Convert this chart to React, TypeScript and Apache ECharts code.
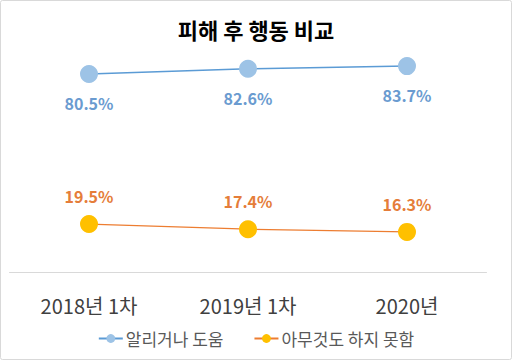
import React, { useEffect, useRef } from "react";
import * as echarts from "echarts";

const categories = ["2018년 1차", "2019년 1차", "2020년"];
const informHelp = [80.5, 82.6, 83.7];
const nothing = [19.5, 17.4, 16.3];
const seriesNames = ["알리거나 도움", "아무것도 하지 못함"];

const FONT = "'Noto Sans CJK KR', 'Noto Sans', sans-serif";

export default function App() {
  const ref = useRef<HTMLDivElement>(null);
  useEffect(() => {
    if (!ref.current) return;
    const chart = echarts.init(ref.current, undefined, { renderer: "svg" });
    chart.setOption({
      animation: false,
      backgroundColor: "#ffffff",
      title: {
        text: "피해 후 행동 비교",
        left: "center",
        top: 13,
        textStyle: { fontFamily: FONT, fontSize: 22, fontWeight: "bold", color: "#000000" },
      },
      graphic: [
        {
          type: "rect",
          shape: { x: 0.5, y: 0.5, width: 511, height: 359, r: 2 },
          style: { fill: "none", stroke: "#d9d9d9", lineWidth: 1 },
        },
      ],
      grid: { left: 9.5, right: 25.5, top: 26, bottom: 88 },
      xAxis: {
        type: "category",
        data: categories,
        boundaryGap: true,
        axisLine: { lineStyle: { color: "#d9d9d9", width: 1 } },
        axisTick: { show: false },
        axisLabel: { fontFamily: FONT, fontSize: 20, color: "#404040", margin: 23 },
      },
      yAxis: {
        type: "value",
        min: 0,
        max: 100,
        show: false,
        splitLine: { show: false },
      },
      legend: {
        top: 325,
        left: "center",
        itemWidth: 24,
        itemHeight: 11,
        itemGap: 30,
        textStyle: { fontFamily: FONT, fontSize: 17, color: "#595959", padding: [0, 0, 0, -2] },
        data: seriesNames,
      },
      series: [
        {
          name: seriesNames[0],
          type: "line",
          data: informHelp,
          symbol: "circle",
          symbolSize: 18,
          itemStyle: { color: "#9dc3e6" },
          lineStyle: { color: "#5b9bd5", width: 1.5 },
          label: {
            show: true,
            position: "bottom",
            distance: 12,
            formatter: "{c}%",
            fontFamily: FONT,
            fontSize: 16,
            fontWeight: "bold",
            color: "#6a9bd0",
          },
        },
        {
          name: seriesNames[1],
          type: "line",
          data: nothing,
          symbol: "circle",
          symbolSize: 18,
          itemStyle: { color: "#ffc000" },
          lineStyle: { color: "#ed7d31", width: 1.2 },
          label: {
            show: true,
            position: "top",
            distance: 11,
            formatter: "{c}%",
            fontFamily: FONT,
            fontSize: 16,
            fontWeight: "bold",
            color: "#e57d3a",
          },
        },
      ],
    });
    return () => chart.dispose();
  }, []);
  return <div ref={ref} style={{ width: 512, height: 360, position: "absolute", left: 0, top: 0 }} />;
}
